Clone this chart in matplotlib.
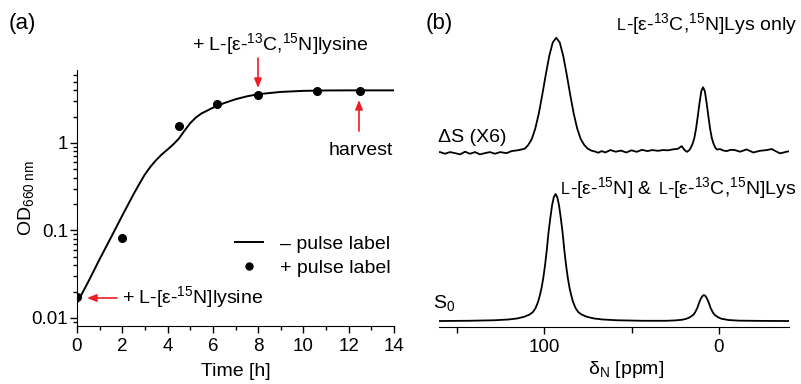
import matplotlib
matplotlib.use('Agg')
import matplotlib.pyplot as plt
from matplotlib.offsetbox import TextArea, HPacker, AnnotationBbox, DrawingArea
from matplotlib.lines import Line2D
from matplotlib.ticker import LogLocator, NullFormatter

plt.rcParams['font.family'] = ['Liberation Sans', 'DejaVu Sans']
plt.rcParams['mathtext.fontset'] = 'custom'
plt.rcParams['mathtext.rm'] = 'Liberation Sans'
plt.rcParams['mathtext.it'] = 'Liberation Sans:italic'
plt.rcParams['mathtext.bf'] = 'Liberation Sans:bold'

# ---------------- data: panel (a) growth curve ----------------
t_line = [0, 0.5, 1, 1.5, 2, 2.5, 2.75, 3, 3.25, 3.5, 3.75, 4, 4.25, 4.5, 4.75, 5, 5.25, 5.5,
          6, 6.5, 7, 7.5, 8, 9, 10, 11, 12, 13, 14]
od_line = [0.0148, 0.026, 0.047, 0.083, 0.148, 0.26, 0.339, 0.437, 0.537, 0.638, 0.741, 0.841,
           0.96, 1.12, 1.38, 1.68, 1.95, 2.17, 2.52, 2.85, 3.15, 3.40, 3.60, 3.82, 3.93, 3.97,
           3.98, 3.98, 3.98]
t_pts = [0, 2, 4.5, 6.2, 8, 10.6, 12.5]
od_pts = [0.0174, 0.083, 1.56, 2.79, 3.54, 3.95, 3.95]
xticks_a = [0, 2, 4, 6, 8, 10, 12, 14]
xminor_a = [1, 3, 5, 7, 9, 11, 13]
yticks_a = [0.01, 0.1, 1]
ylabels_a = ['0.01', '0.1', '1']

# ---------------- data: panel (b) 15N spectra ----------------
s0_ppm = [160, 143.4, 128.4, 120.4, 115.4, 111.4, 108.4, 106.4, 104.9, 103.4, 102.4, 101.4, 100.4,
          99.4, 98.4, 97.4, 96.4, 95.4, 94.4, 93.4, 92.4, 91.4, 90.4, 89.4, 88.4, 87.4, 86.4, 85.4,
          84.4, 83.4, 81.9, 80.4, 78.4, 75.4, 71.4, 66.4, 58.4, 43.4, 30, 25, 21, 18.6, 16.6, 14.6,
          13.6, 12.4, 11.6, 10.6, 9.6, 8.6, 7.6, 6.6, 5.6, 4.8, 3.6, 2.6, 0.6, -1.4, -5.4, -11.4,
          -25, -40]
s0_int = [0, 0.2, 0.6, 1.2, 2, 3.3, 5, 7, 10, 15, 20, 26, 34,
          44, 56, 70, 81, 91, 97.5, 100, 97.5, 91, 81, 70, 56, 44, 34, 26,
          20, 15, 10, 7, 5, 3.3, 2, 1.2, 0.6, 0.2, 0.2, 0.5, 1, 1.8, 3, 5,
          7, 10.3, 13.5, 17, 19.5, 20.5, 19.5, 17, 13.5, 10.3, 7, 5, 3, 1.8, 0.8, 0.3,
          0.1, 0]

ds_ppm = [160, 159.4, 156.6, 153.7, 150.9, 148, 145.1, 142.3, 139.4, 136.6, 133.7, 130.9, 128,
          125.1, 121.3, 118.5, 115.6, 113, 111, 109, 107, 105, 103, 101, 99, 97, 95, 93, 91, 89,
          87, 85, 83, 81, 79, 77, 75, 73, 71, 69, 67, 65, 63, 62, 59, 56, 53, 50, 47, 44, 41, 38,
          35, 32, 29, 26, 23.5, 21.3, 19.8, 18.3, 17, 16.1, 15.1, 14.1, 13.1, 12.1, 11.1, 10.1,
          9.1, 8.1, 7.1, 6.1, 5.1, 4.1, 3.1, 2.1, 1.1, -0.6, -2.5, -4.4, -6.8, -9.1, -12, -15.8,
          -19.6, -23.4, -27.2, -30.1, -33, -34.9, -38.7, -39.5]
ds_int = [0, 0, -1.3, 0, -0.8, -1.8, 0.3, -1.3, 0, -1.8, -0.8, 0, -1.3,
          0, -0.8, 0.8, 1.3, 2, 2.7, 5.6, 10.2, 18.4, 30.2, 45, 60.9, 75.7, 86.3, 90, 86.3, 75.7,
          60.9, 45, 30.2, 18.4, 10.2, 5.6, 2.7, 1.2, 0.5, -0.5, 0.8, -0.3, 1.0, 1.6, 0.3, 1.2, -0.3, 1.4, 0.2, 1.8, 0.8, 1.6,
          1.0, 1.6, 1.4, 2.2, 2.6, 4.7, 1.8, 0.2, 1.5, 3.5, 6.5, 11, 18.5, 28.5, 39, 48,
          51, 48, 39, 28.5, 18.5, 11, 6.5, 3.5, 2, 2.4, 1.2, 0.8, 1.8, 1.6, 0.3, 2.1,
          -0.3, 1.0, 1.6, 2.4, 0.3, -1.0, 0.3, 0.5]
ds_offset = 133
xticks_b = [100, 0]
xminor_b = [150, 50]

# ---------------- figure ----------------
W, H = 801, 384
fig = plt.figure(figsize=(W / 100, H / 100), dpi=100)


def fx(x):
    return x / W


def fy(y):
    return 1 - y / H


red = '#ee1c24'
FS = 14
TFS = 13.5

# panel (a)
axa = fig.add_axes([fx(77), fy(326), fx(394) - fx(77), fy(70) - fy(326)])
axa.plot(t_line, od_line, color='black', lw=1.4)
axa.plot(t_pts, od_pts, 'o', color='black', ms=5.5, ls='none')
axa.set_yscale('log')
axa.set_xlim(0, 14)
axa.set_ylim(0.0081, 6.8)
for s in ['top', 'right']:
    axa.spines[s].set_visible(False)
axa.set_xticks(xticks_a)
axa.set_xticks(xminor_a, minor=True)
axa.set_yticks(yticks_a)
axa.set_yticklabels(ylabels_a)
axa.yaxis.set_minor_locator(LogLocator(base=10, subs=range(2, 10)))
axa.yaxis.set_minor_formatter(NullFormatter())
axa.tick_params(which='major', direction='out', length=5, width=1, labelsize=TFS)
axa.tick_params(which='minor', direction='out', length=3, width=1)
axa.tick_params(axis='y', which='major', pad=1.5)
axa.set_xlabel('Time [h]', fontsize=FS)
axa.xaxis.set_label_coords(0.5, (326 - 363) / 256)
axa.xaxis.label.set_va('top')
axa.set_ylabel('OD$_{660\\ \\mathrm{nm}}$', fontsize=FS)
axa.yaxis.set_label_coords((36 - 77) / 317, 0.5)

legend_handles = [Line2D([], [], color='black', lw=1.4),
                  Line2D([], [], color='black', marker='o', ms=5, ls='none')]
axa.legend(legend_handles, ['– pulse label', '+ pulse label'], loc='center left',
           bbox_to_anchor=((235 - 77) / 317, (326 - 256) / 256), frameon=False, fontsize=FS,
           handlelength=1.45, handletextpad=0.85, labelspacing=0.3, borderpad=0, borderaxespad=0)


def arrow(x0, y0, x1, y1):
    axa.annotate('', xy=(fx(x1), fy(y1)), xycoords='figure fraction',
                 xytext=(fx(x0), fy(y0)), textcoords='figure fraction',
                 arrowprops=dict(arrowstyle='-|>,head_length=0.55,head_width=0.22', color=red,
                                 lw=1.2, shrinkA=0, shrinkB=0), annotation_clip=False)


fig.text(fx(280), fy(50), '+ L-[ε-$^{13}$C,$^{15}$N]lysine', ha='center', va='baseline', fontsize=FS)
arrow(258, 58, 258, 88)
fig.text(fx(361), fy(155), 'harvest', ha='center', va='baseline', fontsize=FS)
arrow(359, 131, 359, 100)
fig.text(fx(122), fy(303), '+ L-[ε-$^{15}$N]lysine', ha='left', va='baseline', fontsize=FS)
arrow(117, 298, 87, 298)
fig.text(fx(22), fy(23), '(a)', ha='center', va='center', fontsize=16)

# panel (b)
axb = fig.add_axes([fx(439), fy(327), fx(789) - fx(439), fy(20) - fy(327)])
axb.plot(s0_ppm, s0_int, color='black', lw=1.3)
axb.plot(ds_ppm, [v + ds_offset for v in ds_int], color='black', lw=1.3)
axb.set_xlim(160, -40)
axb.set_ylim(-4.7, 237)
for s in ['top', 'right', 'left']:
    axb.spines[s].set_visible(False)
axb.set_yticks([])
axb.set_xticks(xticks_b)
axb.set_xticks(xminor_b, minor=True)
axb.tick_params(which='major', direction='out', length=5, width=1, labelsize=TFS)
axb.tick_params(which='minor', direction='out', length=4, width=1)
axb.set_xlabel('δ$_\\mathrm{N}$ [ppm]', fontsize=FS)
axb.xaxis.set_label_coords((626 - 439) / 350, (327 - 359) / 307)
axb.xaxis.label.set_va('top')

fig.text(fx(439), fy(23), '(b)', ha='center', va='center', fontsize=16)
fig.text(fx(438), fy(142), 'ΔS (X6)', ha='left', va='baseline', fontsize=FS)
fig.text(fx(433), fy(308), 'S$_0$', ha='left', va='baseline', fontsize=FS)


def sc_label(parts, x, y):
    children = []
    for p in parts:
        if isinstance(p, (int, float)):
            children.append(DrawingArea(p, 1))
        else:
            s, f = p
            children.append(TextArea(s, textprops=dict(fontsize=f, color='black')))
    box = HPacker(children=children, align='baseline', pad=0, sep=0)
    ab = AnnotationBbox(box, (fx(x), fy(y)), xycoords='figure fraction', box_alignment=(1, 0.5),
                        frameon=False, pad=0, annotation_clip=False)
    fig.add_artist(ab)


SC = 11.5
sc_label([('L', SC), ('-[ε-$^{13}$C,$^{15}$N]Lys only', FS)], 797, 24)
sc_label([('L', SC), ('-[ε-$^{15}$N] &', FS), 4.5, ('L', SC), ('-[ε-$^{13}$C,$^{15}$N]Lys', FS)], 797, 188)

fig.savefig('out.png', dpi=100)
